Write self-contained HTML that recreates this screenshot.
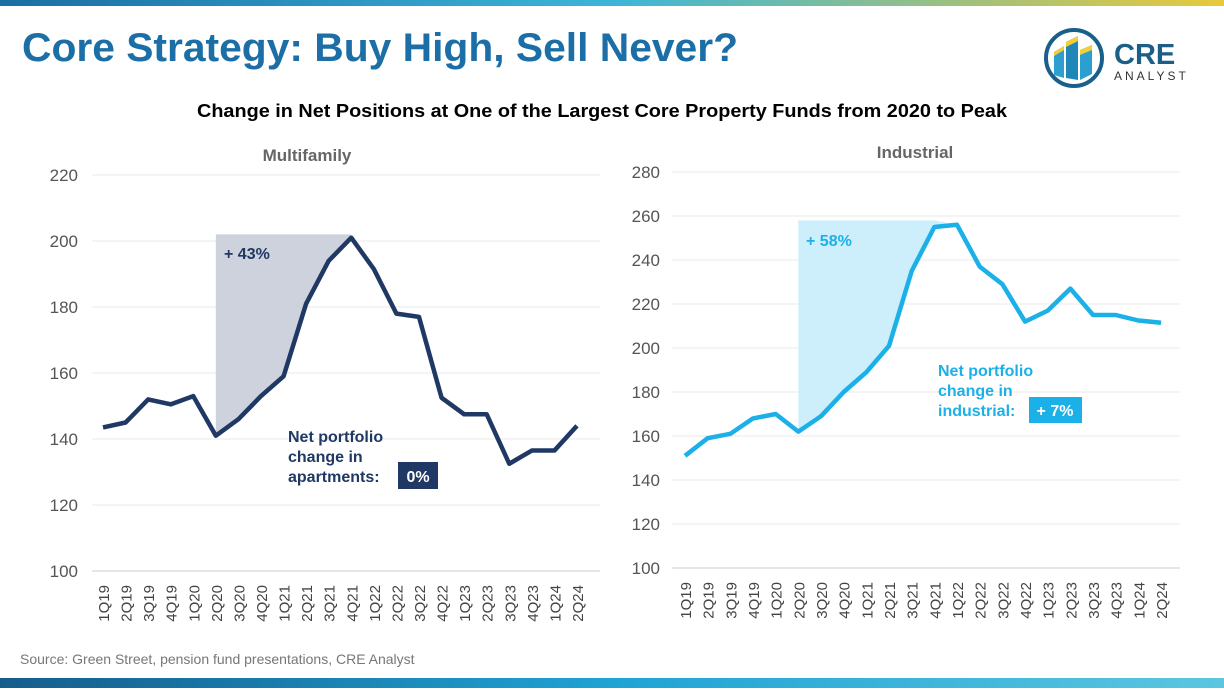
<!DOCTYPE html>
<html><head><meta charset="utf-8"><style>
body{margin:0;width:1224px;height:688px;overflow:hidden;background:#fff;font-family:"Liberation Sans",sans-serif}
</style></head><body>
<svg id="s" width="1224" height="688" xmlns="http://www.w3.org/2000/svg" font-family="Liberation Sans, sans-serif">
<defs>
<linearGradient id="tg" x1="0" x2="1"><stop offset="0" stop-color="#1a6fa3"/><stop offset="0.5" stop-color="#3cb5d8"/><stop offset="1" stop-color="#e8c93a"/></linearGradient>
<linearGradient id="bg" x1="0" x2="1"><stop offset="0" stop-color="#155d8c"/><stop offset="0.5" stop-color="#1fa3d4"/><stop offset="1" stop-color="#5cc6e0"/></linearGradient>
</defs>
<rect x="0" y="0" width="1224" height="6" fill="url(#tg)"/>
<rect x="0" y="678" width="1224" height="10" fill="url(#bg)"/>
<text x="22" y="61" font-size="40" font-weight="bold" fill="#1b6fa6" textLength="716" lengthAdjust="spacingAndGlyphs">Core Strategy: Buy High, Sell Never?</text>
<circle cx="1074" cy="58" r="28" fill="#fff" stroke="#1a5f8a" stroke-width="4"/>
<polygon points="1054,75 1054,52 1064,46 1064,78" fill="#2a9fd0"/>
<polygon points="1066,78 1066,42 1078,36 1078,80" fill="#1f86b8"/>
<polygon points="1080,80 1080,50 1092,45 1092,74" fill="#2a9fd0"/>
<polygon points="1054,52 1064,46 1064,50 1054,56" fill="#f2cf3a"/>
<polygon points="1066,42 1078,36 1078,41 1066,47" fill="#f2cf3a"/>
<polygon points="1080,50 1092,45 1092,50 1080,55" fill="#f2cf3a"/>
<text x="1114" y="64" font-size="29" font-weight="bold" fill="#1b5f88">CRE</text>
<text x="1114" y="80" font-size="12" letter-spacing="3" fill="#333">ANALYST</text>
<text x="197" y="117" font-size="18" font-weight="bold" fill="#000" textLength="810" lengthAdjust="spacingAndGlyphs">Change in Net Positions at One of the Largest Core Property Funds from 2020 to Peak</text>
<text x="307" y="161" font-size="17" font-weight="bold" fill="#666" text-anchor="middle">Multifamily</text>
<text x="915" y="158" font-size="17" font-weight="bold" fill="#666" text-anchor="middle">Industrial</text>
<g id="L"></g><g id="R"></g>
<text x="20" y="664" font-size="14" fill="#777">Source: Green Street, pension fund presentations, CRE Analyst</text>
</svg>
<script>
const labs=["1Q19","2Q19","3Q19","4Q19","1Q20","2Q20","3Q20","4Q20","1Q21","2Q21","3Q21","4Q21","1Q22","2Q22","3Q22","4Q22","1Q23","2Q23","3Q23","4Q23","1Q24","2Q24"];
function chart(g,cfg){
 let h='';
 const Y=v=>cfg.y0-(v-cfg.vmin)*cfg.ppu, X=i=>cfg.x0+i*cfg.dx;
 for(let v=cfg.vmin;v<=cfg.vmax;v+=20){h+=`<line x1="${cfg.gx0}" x2="${cfg.gx1}" y1="${Y(v)}" y2="${Y(v)}" stroke="${v==cfg.vmin?'#ccc':'#e8e8e8'}" stroke-width="1"/>`;
 h+=`<text x="${cfg.tx}" y="${Y(v)+6}" font-size="17" fill="#555" text-anchor="end">${v}</text>`;}
 let pts=cfg.d.map((v,i)=>X(i)+','+Y(v));
 let sh=[X(5)+','+Y(cfg.top),cfg.sx+','+Y(cfg.top)];
 for(let i=cfg.pk;i>=5;i--)sh.push(X(i)+','+Y(cfg.d[i]));
 h+=`<polygon points="${sh.join(' ')}" fill="${cfg.fill}"/>`;
 h+=`<polyline points="${pts.join(' ')}" fill="none" stroke="${cfg.col}" stroke-width="4.5" stroke-linejoin="round"/>`;
 labs.forEach((l,i)=>{h+=`<text transform="translate(${X(i)+6},${cfg.y0+14}) rotate(-90)" font-size="15" fill="#444" text-anchor="end">${l}</text>`});
 h+=cfg.extra;
 document.getElementById(g).innerHTML=h;
}
chart('L',{vmin:100,vmax:220,y0:571,ppu:3.3,x0:103,dx:22.57,gx0:92,gx1:600,tx:78,
 d:[143.5,145,152,150.5,153,141,146,153,159,181,194,201,191.5,178,177,152.5,147.5,147.5,132.5,136.5,136.5,144],
 top:202,pk:11,sx:351,fill:"#cdd2dc",col:"#1f3864",
 extra:`<text x="224" y="259" font-size="16" font-weight="bold" fill="#1f3864">+ 43%</text>
 <text x="288" y="442" font-size="16" font-weight="bold" fill="#1f3864">Net portfolio</text>
 <text x="288" y="462" font-size="16" font-weight="bold" fill="#1f3864">change in</text>
 <text x="288" y="482" font-size="16" font-weight="bold" fill="#1f3864">apartments:</text>
 <rect x="398" y="462" width="40" height="27" fill="#1f3864"/><text x="418" y="482" font-size="16" font-weight="bold" fill="#fff" text-anchor="middle">0%</text>`});
chart('R',{vmin:100,vmax:280,y0:568,ppu:2.2,x0:685,dx:22.67,gx0:672,gx1:1180,tx:660,
 d:[151,159,161,168,170,162,169,180,189,201,235,255,256,237,229,212,217,227,215,215,212.5,211.5],
 top:258,pk:12,sx:934,fill:"#cdeefb",col:"#1cb0e8",
 extra:`<text x="806" y="246" font-size="16" font-weight="bold" fill="#1cb0e8">+ 58%</text>
 <text x="938" y="376" font-size="16" font-weight="bold" fill="#1cb0e8">Net portfolio</text>
 <text x="938" y="396" font-size="16" font-weight="bold" fill="#1cb0e8">change in</text>
 <text x="938" y="416" font-size="16" font-weight="bold" fill="#1cb0e8">industrial:</text>
 <rect x="1029" y="397" width="53" height="26" fill="#1cb0e8"/><text x="1055" y="416" font-size="16" font-weight="bold" fill="#fff" text-anchor="middle">+ 7%</text>`});
</script>
</body></html>
